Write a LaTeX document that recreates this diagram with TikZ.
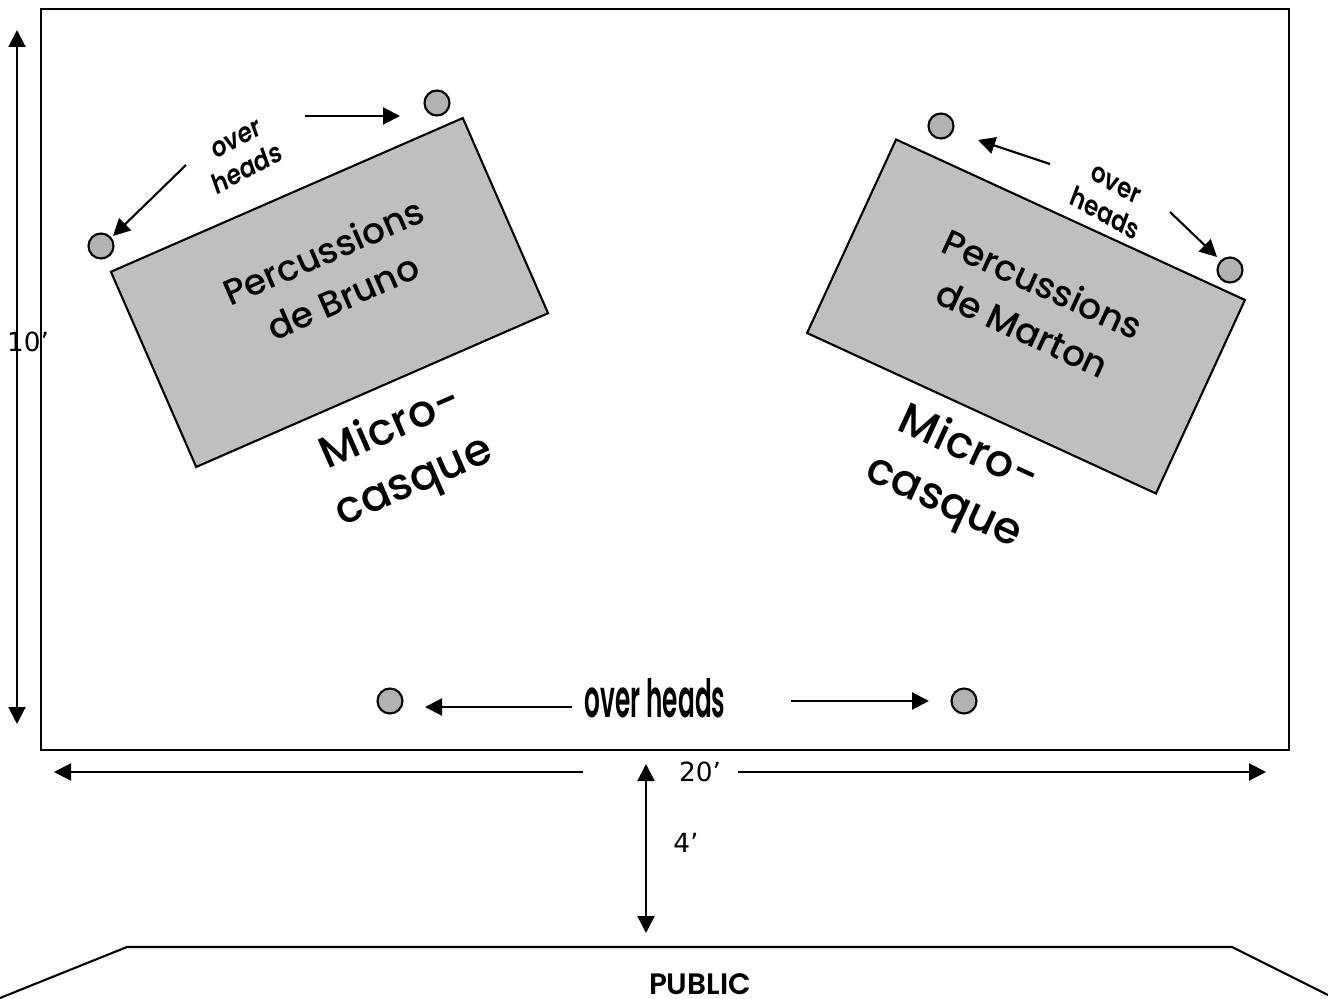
\documentclass[tikz,border=0pt]{standalone}
\usepackage{fontspec}
\setmainfont{Poppins Medium}
\newfontfamily\semifont{Poppins SemiBold}
\newfontfamily\dimfont{DejaVu Sans}
\usetikzlibrary{arrows.meta}
\tikzset{
    every node/.style={inner sep=0mm},
    box/.style={draw, fill=black!25, line width=0.6pt, minimum width=3.84cm, minimum height=2.13cm},
    mic/.style={circle, draw, fill=black!30, line width=0.6pt, minimum size=0.25cm},
    conn/.style={-{Triangle[length=1.7mm,width=1.7mm]}, line width=0.6pt},
    dimen/.style={{Triangle[length=1.7mm,width=1.7mm]}-{Triangle[length=1.7mm,width=1.7mm]}, line width=0.6pt},
    dimlabel/.style={font=\dimfont\fontsize{7.5}{7.5}\selectfont},
    perc/.style={font=\fontsize{10.2}{14}\selectfont, align=center},
    casque/.style={font=\fontsize{12.6}{16.5}\selectfont, align=center},
    overtext/.style={font=\semifont\fontsize{8}{9.5}\selectfont, align=center, xscale=0.82}
}

\begin{document}
\begin{tikzpicture}
    \useasboundingbox (0cm, 0cm) rectangle (13.28cm, 9.98cm);

    % stage
    \node (stage) [draw, line width=0.6pt, minimum width=12.48cm, minimum height=7.41cm] at (6.65cm, 6.185cm) {};

    % left set
    \node (boxb) [box, rotate=23.6] at (3.295cm, 7.055cm) {};
    \node (textb) [perc, rotate=23.6] at (3.33cm, 7.24cm) {Percussions\\de Bruno};
    \node (microb) [casque, rotate=23.6] at (4.03cm, 5.42cm) {Micro-\\casque};
    \node (over1) [overtext, rotate=23.6] at (2.42cm, 8.43cm) {over\\heads};
    \node (m1) [mic] at (4.37cm, 8.95cm) {};
    \node (m2) [mic] at (1.01cm, 7.52cm) {};

    % right set
    \node (boxm) [box, rotate=-24.7] at (10.26cm, 6.815cm) {};
    \node (textm) [perc, rotate=-24.7] at (10.33cm, 6.92cm) {Percussions\\de Marton};
    \node (microm) [casque, rotate=-24.7] at (9.56cm, 5.21cm) {Micro-\\casque};
    \node (over2) [overtext, rotate=-24.7] at (11.10cm, 7.98cm) {over\\heads};
    \node (m3) [mic] at (9.41cm, 8.72cm) {};
    \node (m4) [mic] at (12.30cm, 7.28cm) {};

    % front
    \node (over3) [font=\semifont\fontsize{15}{15}\selectfont, xscale=0.47] at (6.55cm, 3.00cm) {over heads};
    \node (m5) [mic] at (3.90cm, 2.97cm) {};
    \node (m6) [mic] at (9.64cm, 2.97cm) {};

    % dimensions
    \node (ten) [dimlabel] at (0.28cm, 6.56cm) {10’};
    \node (twenty) [dimlabel] at (7.00cm, 2.26cm) {20’};
    \node (four) [dimlabel] at (6.86cm, 1.55cm) {4’};
    \node (public) [font=\semifont\fontsize{8.4}{8.4}\selectfont] at (7.00cm, 0.14cm) {PUBLIC};

    \coordinate (a1) at (3.05cm, 8.82cm);
    \coordinate (a2) at (4.00cm, 8.82cm);
    \coordinate (a3) at (1.86cm, 8.33cm);
    \coordinate (a4) at (1.13cm, 7.62cm);
    \coordinate (a5) at (10.50cm, 8.34cm);
    \coordinate (a6) at (9.78cm, 8.58cm);
    \coordinate (a7) at (11.70cm, 7.86cm);
    \coordinate (a8) at (12.17cm, 7.41cm);
    \coordinate (a9) at (5.72cm, 2.91cm);
    \coordinate (a10) at (4.25cm, 2.91cm);
    \coordinate (a11) at (7.91cm, 2.97cm);
    \coordinate (a12) at (9.29cm, 2.97cm);

    \coordinate (d1) at (0.17cm, 9.68cm);
    \coordinate (d2) at (0.17cm, 2.74cm);
    \coordinate (d3) at (0.54cm, 2.26cm);
    \coordinate (d4) at (5.83cm, 2.26cm);
    \coordinate (d5) at (7.38cm, 2.26cm);
    \coordinate (d6) at (12.66cm, 2.26cm);
    \coordinate (d7) at (6.46cm, 2.34cm);
    \coordinate (d8) at (6.46cm, 0.65cm);

    \coordinate (p1) at (0.00cm, 0.00cm);
    \coordinate (p2) at (1.27cm, 0.51cm);
    \coordinate (p3) at (12.32cm, 0.51cm);
    \coordinate (p4) at (13.28cm, 0.03cm);

    \draw [conn] (a1) -- (a2);
    \draw [conn] (a3) -- (a4);
    \draw [conn] (a5) -- (a6);
    \draw [conn] (a7) -- (a8);
    \draw [conn] (a9) -- (a10);
    \draw [conn] (a11) -- (a12);

    \draw [dimen] (d1) -- (d2);
    \draw [{Triangle[length=1.7mm,width=1.7mm]}-, line width=0.6pt] (d3) -- (d4);
    \draw [-{Triangle[length=1.7mm,width=1.7mm]}, line width=0.6pt] (d5) -- (d6);
    \draw [dimen] (d7) -- (d8);

    \draw [line width=0.6pt] (p1) -- (p2) -- (p3) -- (p4);
\end{tikzpicture}
\end{document}
